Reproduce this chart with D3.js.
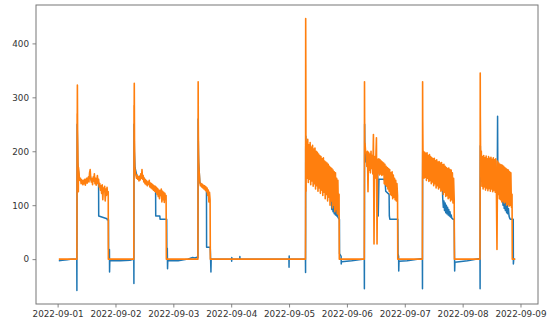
<!DOCTYPE html>
<html>
<head>
<meta charset="utf-8">
<script src="https://cdn.jsdelivr.net/npm/d3@7"></script>
<style>
  body { margin: 0; background: #fff; }
  svg text { font-family: "DejaVu Sans", sans-serif; }
</style>
</head>
<body>
<svg id="chart" width="547" height="331"></svg>
<script>
// Hours are counted from 2022-09-01 00:00.
// Sparse readings: [hour, value]
const bluePoints = [
  [0.5,-3],[2,-2],[4,-1],[6,0],[7.95,0],[8.0,-58],[8.05,120],[8.1,250],[8.2,230],[8.35,180],[8.6,165],[9,150],[10,145],[12,146],[13.5,155],[14,146],[16,145],[16.95,140],[17.0,135],[17.05,80],[20.5,75],[20.6,73],[21.1,73],[21.15,18],[21.5,18],[21.55,-24],[21.65,-3],[26,-3],[30,-2],[31.6,0],
  [31.65,-45],[31.7,250],[31.75,240],[31.85,200],[32.1,170],[33,152],[35,155],[37,142],[39,135],[40.6,128],[40.65,126],[40.7,80],[42.4,80],[42.5,74],[45.25,74],[45.3,20],[45.5,20],[45.6,-18],[45.7,-3],[50,-3],[54,0],[56,3],[57,2],[58.1,4],[58.2,3],
  [58.25,100],[58.3,260],[58.35,220],[58.5,180],[59,142],[60,136],[61,133],[61.75,129],[61.8,22],[63.3,22],[63.4,10],[63.6,-24],[63.7,0],
  [72.15,0],[72.2,-4],[72.25,3],[72.3,0],[75.55,0],[75.6,5],[75.65,0],[95.95,0],[96.0,-15],[96.05,6],[96.1,0],[102.8,0],
  [102.85,-25],[102.9,200],[102.95,228],[103.05,180],[103.1,154],[107.3,154],[107.35,150],[109,140],[111,130],[113.25,115],
  [116.9,74],[116.95,10],[117.6,5],[117.65,-9],[117.75,-5],[122,-3],[127.2,0],
  [127.25,-55],[127.3,120],[127.35,250],[127.45,200],[128,180],[130,175],[132.7,165],[132.8,148],[133.0,80],[133.3,148],[135.5,148],[135.9,140],[136.1,126],[137.5,120],[137.6,80],[137.8,74],[141.1,74],[141.2,10],[141.45,5],[141.5,-22],[141.6,-4],[145,-3],[151.3,1],
  [151.35,-55],[151.4,150],[151.45,200],[151.55,185],[155,165],[159.5,150],
  [164.5,74],[164.6,20],[164.7,-22],[164.8,-6],[170,-3],[175.2,1],
  [175.25,-55],[175.3,150],[175.35,210],[175.45,180],[178,160],[182.2,155],[182.3,92],[182.5,265],[182.6,160],[184.25,140],
  [189.0,74],[189.05,-9],[189.2,0],[189.8,0]
];

const orangePoints = [
  [0.5,0],[7.95,0],[8.0,0],[8.05,120],[8.1,270],[8.15,255],[8.2,323],[8.3,230],[8.45,178],[8.6,125],[8.65,170],
  [21.05,0],[31.6,0],[31.65,110],[31.7,285],[31.75,250],[31.8,326],[31.9,215],
  [45.1,0],[58.2,0],[58.25,130],[58.3,329],[58.35,255],[58.45,195],[58.6,170],
  [63.35,0],[102.8,0],[102.85,60],[102.9,446],[102.95,360],[103.0,221],[103.05,126],[103.1,210],
  [116.85,0],[127.2,0],[127.25,110],[127.3,329],[127.35,260],[127.4,205],
  [141.1,0],[151.3,0],[151.35,110],[151.4,329],[151.45,255],[151.55,200],
  [164.6,0],[175.2,0],[175.25,90],[175.3,345],[175.35,265],[175.45,195],
  [188.6,0],[189.8,0]
];

// Dense runs logged every 15 minutes (0.25 h)
const runStep = 0.25;

const orangeRunStart = [8.75, 32.0, 58.75, 103.25, 127.5, 151.75, 175.75];
const orangeDay1 = [165,152,146,150,140,147,143,138,146,140,148,137,145,150,141,147,152,143,160,166,150,143,149,138,152,145,158,140,150,137,146,155,140,148,134,140,128,136,122,138,110,132,126,135,108,130,118,133,120,125];
const orangeDay2 = [172,160,155,150,156,148,153,145,152,147,158,150,166,148,155,143,150,140,147,138,145,136,143,139,146,134,141,132,140,130,138,128,136,126,135,124,133,120,131,116,128,112,127,118,130,106,126,110,124,105,122,112,118];
const orangeDay3 = [160,142,136,140,134,139,132,137,130,136,128,134,125,132,118,128,106,124,110];
const orangeDay5 = [218,150,222,142,212,148,216,138,208,145,211,135,204,140,206,130,200,136,198,126,195,132,192,122,190,128,186,118,188,124,182,112,180,120,178,108,176,115,172,100,170,108,168,95,165,100,162,88,160,92,150,84,146,82,120];
const orangeDay6 = [215,200,196,172,200,125,198,165,195,160,200,168,192,158,231,28,190,150,188,225,28,185,160,186,156,184,158,182,155,180,157,178,140,176,138,172,135,170,130,168,126,166,120,160,118,162,112,156,115,150,110,146,108,140,118];
const orangeDay7 = [200,150,198,152,196,146,197,150,192,144,194,146,190,140,188,143,186,136,187,140,183,132,184,136,180,130,181,133,178,126,179,128,175,120,176,124,172,116,170,118,168,112,169,114,166,108,165,110,160,104,150,112];
const orangeDay8 = [200,135,190,130,192,134,188,128,191,132,186,127,190,131,187,126,189,130,185,125,188,128,184,124,186,130,18,182,120,178,112,176,110,175,106,174,108,172,104,170,106,168,100,166,102,165,98,162,100,160,96,120];
const orangeRuns = [orangeDay1, orangeDay2, orangeDay3, orangeDay5, orangeDay6, orangeDay7, orangeDay8];

const blueRunStart = [113.5, 159.75, 184.5];
const blueDay5 = [110,92,108,88,104,84,100,82,96,80,90,78,76,74];
const blueDay7 = [112,96,108,90,104,86,100,84,96,82,92,80,88,78,82,76,75,74];
const blueDay8 = [120,100,116,94,112,90,106,86,100,84,94,80,76,74];
const blueRuns = [blueDay5, blueDay7, blueDay8];

const xTickLabels = ["2022-09-01","2022-09-02","2022-09-03","2022-09-04","2022-09-05","2022-09-06","2022-09-07","2022-09-08","2022-09-09"];
const yTickValues = [0, 100, 200, 300, 400];

// ---- build series ----
const BASE = new Date(2022, 8, 1, 0, 0, 0);
const toDate = h => new Date(BASE.getTime() + h * 3600e3);

function buildSeries(points, runStarts, runs) {
  const rows = points.map(([h, v]) => ({ h, v }));
  runs.forEach((vals, k) => {
    vals.forEach((v, i) => rows.push({ h: runStarts[k] + i * runStep, v }));
  });
  rows.sort((a, b) => a.h - b.h);
  return rows.map(r => ({ date: toDate(r.h), h: r.h, v: r.v }));
}

const blue = buildSeries(bluePoints, blueRunStart, blueRuns);
const orange = buildSeries(orangePoints, orangeRunStart, orangeRuns);

// ---- layout ----
const W = 547, H = 331;
const plot = { left: 36, right: 538, top: 5, bottom: 304 };

const all = blue.concat(orange);
const hExt = d3.extent(all, d => d.h);
const vExt = d3.extent(all, d => d.v);
const hPad = (hExt[1] - hExt[0]) * 0.05;
const vPad = (vExt[1] - vExt[0]) * 0.05;

const x = d3.scaleTime()
  .domain([toDate(hExt[0] - hPad), toDate(hExt[1] + hPad)])
  .range([plot.left, plot.right]);
const y = d3.scaleLinear()
  .domain([vExt[0] - vPad, vExt[1] + vPad])
  .range([plot.bottom, plot.top]);

const svg = d3.select("#chart");
svg.append("rect").attr("width", W).attr("height", H).attr("fill", "#fff");

svg.append("defs").append("clipPath").attr("id", "plotClip")
  .append("rect")
  .attr("x", plot.left).attr("y", plot.top)
  .attr("width", plot.right - plot.left).attr("height", plot.bottom - plot.top);

const line = d3.line().x(d => x(d.date)).y(d => y(d.v));

const lines = svg.append("g").attr("clip-path", "url(#plotClip)");
lines.append("path").datum(blue)
  .attr("d", line).attr("fill", "none")
  .attr("stroke", "#1f77b4").attr("stroke-width", 1.5)
  .attr("stroke-linejoin", "round");
lines.append("path").datum(orange)
  .attr("d", line).attr("fill", "none")
  .attr("stroke", "#ff7f0e").attr("stroke-width", 1.6)
  .attr("stroke-linejoin", "round");

// ---- axes ----
const parse = d3.timeParse("%Y-%m-%d");
const xTicks = xTickLabels.map(parse);

const xAxis = d3.axisBottom(x)
  .tickValues(xTicks)
  .tickFormat(d3.timeFormat("%Y-%m-%d"))
  .tickSize(3.5).tickPadding(3.5);
const yAxis = d3.axisLeft(y)
  .tickValues(yTickValues)
  .tickSize(3.5).tickPadding(3.5);

const gx = svg.append("g").attr("transform", `translate(0,${plot.bottom})`).call(xAxis);
const gy = svg.append("g").attr("transform", `translate(${plot.left},0)`).call(yAxis);

[gx, gy].forEach(g => {
  g.select(".domain").remove();
  g.selectAll(".tick line").attr("stroke", "#777").attr("stroke-width", 0.9);
  g.selectAll(".tick text")
    .attr("fill", "#333")
    .style("font-size", "8.8px")
    .style("font-family", "'DejaVu Sans', sans-serif");
});

// frame
svg.append("rect")
  .attr("x", plot.left).attr("y", plot.top)
  .attr("width", plot.right - plot.left).attr("height", plot.bottom - plot.top)
  .attr("fill", "none").attr("stroke", "#777").attr("stroke-width", 1);
</script>
</body>
</html>
